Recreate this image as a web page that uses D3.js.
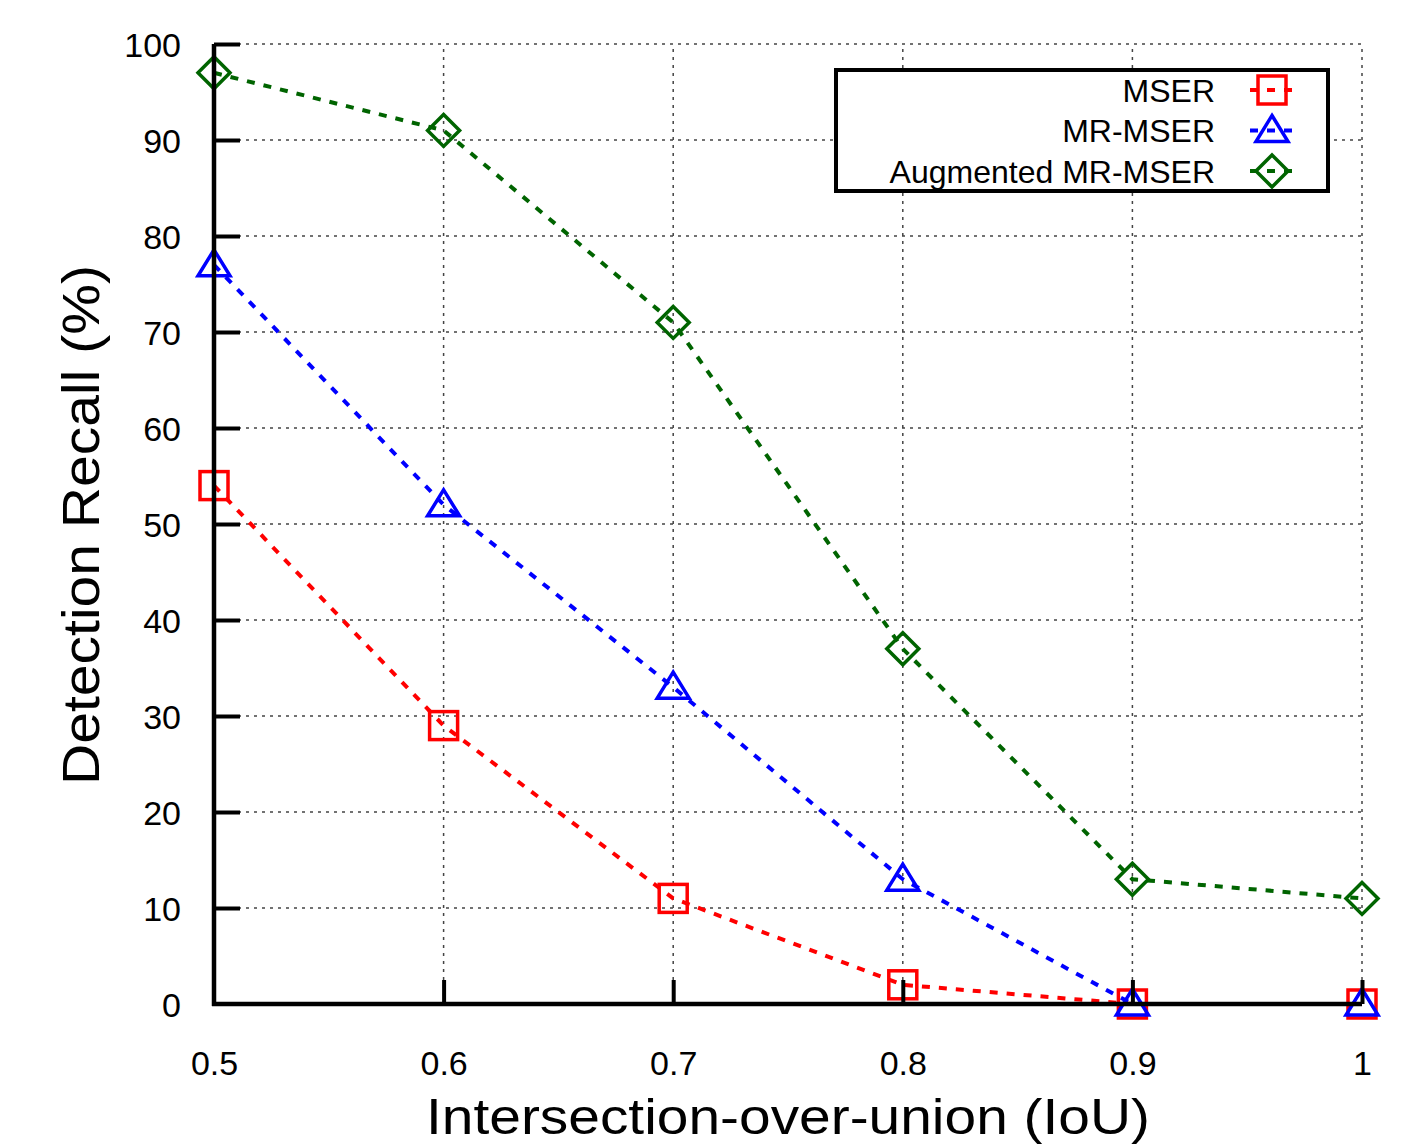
<!DOCTYPE html>
<html>
<head>
<meta charset="utf-8">
<script src="https://cdn.jsdelivr.net/npm/d3@7"></script>
<style>
  body { margin: 0; background: #fff; }
  text { font-family: "Liberation Sans", Arial, sans-serif; fill: #000; }
</style>
</head>
<body>
<div id="graph"></div>
<script>
'use strict';

// chart data
const iou = [0.5, 0.6, 0.7, 0.8, 0.9, 1];
const mser = [54, 29, 11, 2, 0, 0];
const mrMser = [77, 52, 33, 13, 0, 0];
const augMrMser = [97, 91, 71, 37, 13, 11];
const seriesNames = ["MSER", "MR-MSER", "Augmented MR-MSER"];
const xTicks = [0.5, 0.6, 0.7, 0.8, 0.9, 1];
const yTicks = [0, 10, 20, 30, 40, 50, 60, 70, 80, 90, 100];

const series = [
  { name: seriesNames[0], values: mser, color: "#ff0000", shape: "square" },
  { name: seriesNames[1], values: mrMser, color: "#0000ff", shape: "triangle" },
  { name: seriesNames[2], values: augMrMser, color: "#006400", shape: "diamond" }
];

const svg = d3.select('#graph')
  .append('svg')
  .attr('width', 1410)
  .attr('height', 1145);

const x = d3.scaleLinear().domain([0.5, 1]).range([214, 1362]);
const y = d3.scaleLinear().domain([0, 100]).range([1004, 44]);

// grid
const grid = svg.append('g');
grid.selectAll('.hgrid')
  .data(yTicks.filter(d => d > 0))
  .enter()
  .append('line')
    .attr('x1', x(0.5)).attr('x2', x(1))
    .attr('y1', d => y(d)).attr('y2', d => y(d))
    .attr('stroke', '#444').attr('stroke-width', 1.5)
    .attr('stroke-dasharray', '3,5');
grid.selectAll('.vgrid')
  .data(xTicks.filter(d => d > 0.5))
  .enter()
  .append('line')
    .attr('x1', d => x(d)).attr('x2', d => x(d))
    .attr('y1', y(0)).attr('y2', y(100))
    .attr('stroke', '#444').attr('stroke-width', 1.5)
    .attr('stroke-dasharray', '3,5');

// marker shapes
function drawMarker(g, shape, cx, cy, color) {
  let s = 14;
  if (shape === 'square') {
    g.append('rect')
      .attr('x', cx - s).attr('y', cy - s)
      .attr('width', 2 * s).attr('height', 2 * s)
      .attr('fill', 'none').attr('stroke', color).attr('stroke-width', 3.5);
  } else if (shape === 'triangle') {
    g.append('path')
      .attr('d', `M${cx},${cy - 15}L${cx + 16},${cy + 11}L${cx - 16},${cy + 11}Z`)
      .attr('fill', 'none').attr('stroke', color).attr('stroke-width', 3.5);
  } else {
    g.append('path')
      .attr('d', `M${cx},${cy - 16}L${cx + 16},${cy}L${cx},${cy + 16}L${cx - 16},${cy}Z`)
      .attr('fill', 'none').attr('stroke', color).attr('stroke-width', 3.5);
  }
}

// lines and points
const line = d3.line()
  .x((d, i) => x(iou[i]))
  .y(d => y(d));

series.forEach(s => {
  svg.append('path')
    .datum(s.values)
    .attr('d', line)
    .attr('fill', 'none')
    .attr('stroke', s.color)
    .attr('stroke-width', 4)
    .attr('stroke-dasharray', '8,9');
});

series.forEach(s => {
  let g = svg.append('g');
  s.values.forEach((v, i) => drawMarker(g, s.shape, x(iou[i]), y(v), s.color));
});

// axes (ticks point inward)
let xAxis = d3.axisBottom(x).tickValues(xTicks).tickSize(-24).tickPadding(0)
  .tickFormat(d3.format('~g'));
let gx = svg.append('g').attr('transform', `translate(0, ${y(0)})`).call(xAxis);
gx.select('.domain').attr('stroke-width', 4.5).attr('d', `M${x(0.5) - 2},0H${x(1)}`);
gx.selectAll('.tick line').attr('stroke-width', 4);
gx.selectAll('.tick text').attr('dy', 0).attr('y', 71)
  .style('font-size', '34px');

let yAxis = d3.axisLeft(y).tickValues(yTicks).tickSize(-26).tickPadding(0);
let gy = svg.append('g').attr('transform', `translate(${x(0.5)}, 0)`).call(yAxis);
gy.select('.domain').attr('stroke-width', 4.5).attr('d', `M0,${y(0) + 2}V${y(100)}`);
gy.selectAll('.tick line').attr('stroke-width', 4);
gy.selectAll('.tick text').attr('x', -33).attr('dy', '0.36em')
  .style('font-size', '34px');
gy.selectAll('.tick').filter(d => d === 0).select('line').remove();
gx.selectAll('.tick').filter(d => d === 0.5).select('line').remove();

// axis titles
svg.append('text')
  .attr('x', 788).attr('y', 1134)
  .attr('text-anchor', 'middle')
  .attr('textLength', 724).attr('lengthAdjust', 'spacingAndGlyphs')
  .style('font-size', '50px')
  .text('Intersection-over-union (IoU)');

svg.append('text')
  .attr('transform', 'translate(99, 525) rotate(-90)')
  .attr('text-anchor', 'middle')
  .attr('textLength', 520).attr('lengthAdjust', 'spacingAndGlyphs')
  .style('font-size', '52px')
  .text('Detection Recall (%)');

// legend
let legend = svg.append('g');
legend.append('rect')
  .attr('x', 836).attr('y', 70).attr('width', 492).attr('height', 121)
  .attr('fill', '#fff').attr('stroke', '#000').attr('stroke-width', 4);

series.forEach((s, i) => {
  let ly = 90 + 40.5 * i;
  legend.append('text')
    .attr('x', 1215).attr('y', ly).attr('dy', '0.36em')
    .attr('text-anchor', 'end')
    .style('font-size', '32px')
    .text(s.name);
  legend.append('line')
    .attr('x1', 1250).attr('x2', 1296)
    .attr('y1', ly).attr('y2', ly)
    .attr('stroke', s.color).attr('stroke-width', 4)
    .attr('stroke-dasharray', '8,9');
  let g = legend.append('g');
  drawMarker(g, s.shape, 1272, ly, s.color);
});
</script>
</body>
</html>
